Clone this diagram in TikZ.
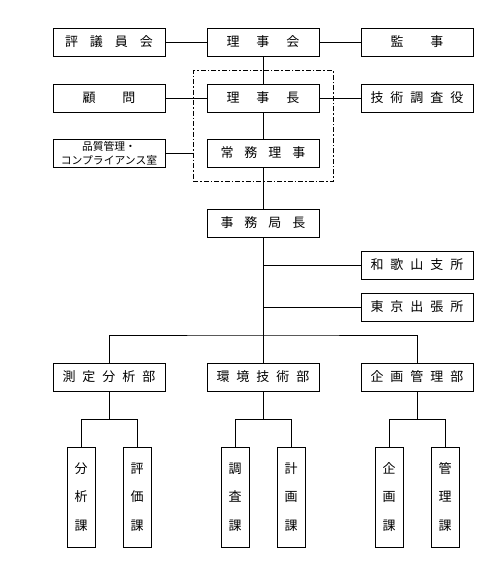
\documentclass[tikz,border=0pt]{standalone}
\usepackage{fontspec}
\setmainfont{Noto Sans CJK JP}
\newcommand\gp[1]{\hspace{#1pt}}
\begin{document}
\begin{tikzpicture}[x=1pt,y=-1pt,
  box/.style={draw, line width=0.9pt, minimum width=112pt, minimum height=28pt, inner sep=0pt, font=\fontsize{13}{15}\selectfont},
  vbox/.style={draw, line width=0.9pt, minimum width=28pt, minimum height=100pt, inner sep=0pt, align=center, font=\fontsize{13}{28.5}\selectfont},
  ln/.style={line width=0.9pt},
  grpbox/.style={draw, line width=0.8pt, dash pattern=on 5pt off 2pt on 1.5pt off 2pt, minimum width=140pt, minimum height=110.6pt, inner sep=0pt}]
\useasboundingbox (0,0) rectangle (502,576);
% top rows
\node[box] (hyogi) at (109,42) {評\gp{12}議\gp{12}員\gp{12}会};
\node[box] (rijikai) at (263,42) {理\gp{17}事\gp{17}会};
\node[box] (kanji) at (417,42) {監\gp{27}事};
\node[box] (komon) at (109,98) {顧\gp{27}問};
\node[box] (rijicho) at (263,98) {理\gp{17}事\gp{17}長};
\node[box] (gijutsu) at (417,98) {技\gp{7}術\gp{7}調\gp{7}査\gp{7}役};
\node[box, align=center, font=\fontsize{10.8}{13.7}\selectfont] (hinshitsu) at (109,153) {品質管理・\\コンプライアンス室};
\node[box] (jomu) at (263,153) {常\gp{11}務\gp{11}理\gp{11}事};
\node[grpbox] (grp) at (263.3,126) {};
\node[box] (jimu) at (263,223) {事\gp{11}務\gp{11}局\gp{11}長};
\node[box] (wakayama) at (417,265) {和\gp{7}歌\gp{7}山\gp{7}支\gp{7}所};
\node[box] (tokyo) at (417,307) {東\gp{7}京\gp{7}出\gp{7}張\gp{7}所};
% departments
\node[box] (sokutei) at (109,377) {測\gp{7}定\gp{7}分\gp{7}析\gp{7}部};
\node[box] (kankyo) at (263,377) {環\gp{7}境\gp{7}技\gp{7}術\gp{7}部};
\node[box] (kikaku) at (417,377) {企\gp{7}画\gp{7}管\gp{7}理\gp{7}部};
% sections
\node[vbox] (bunseki) at (81,497) {分\\析\\課};
\node[vbox] (hyoka) at (137,497) {評\\価\\課};
\node[vbox] (chosa) at (235,497) {調\\査\\課};
\node[vbox] (keikaku) at (291,497) {計\\画\\課};
\node[vbox] (kikakuka) at (389,497) {企\\画\\課};
\node[vbox] (kanri) at (445,497) {管\\理\\課};
% coordinates
\coordinate (bus) at (263,335);
\coordinate (jw) at (263,265);
\coordinate (jt) at (263,307);
% connectors
\draw[ln] (hyogi.east) -- (rijikai.west);
\draw[ln] (rijikai.east) -- (kanji.west);
\draw[ln] (rijikai.south) -- (rijicho.north);
\draw[ln] (komon.east) -- (rijicho.west);
\draw[ln] (rijicho.east) -- (gijutsu.west);
\draw[ln] (rijicho.south) -- (jomu.north);
\draw[ln] (hinshitsu.east) -- (hinshitsu.east -| grp.west);
\draw[ln] (jomu.south) -- (jimu.north);
\draw[ln] (jimu.south) -- (bus);
\draw[ln] (jw) -- (wakayama.west);
\draw[ln] (jt) -- (tokyo.west);
\draw[ln] (sokutei.north) |- (bus) -| (kikaku.north);
\draw[ln] (bus) -- (kankyo.north);
\foreach \d/\a/\b in {sokutei/bunseki/hyoka, kankyo/chosa/keikaku, kikaku/kikakuka/kanri}{
  \coordinate (\d-s) at ([yshift=-28pt]\d.south);
  \draw[ln] (\d.south) -- (\d-s);
  \draw[ln] (\a.north) |- (\d-s) -| (\b.north);
}
\end{tikzpicture}
\end{document}
